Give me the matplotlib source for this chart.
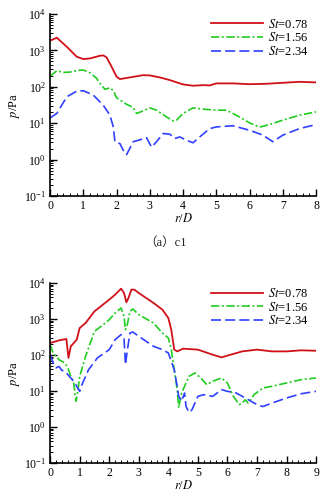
import matplotlib
matplotlib.use("Agg")
import matplotlib.pyplot as plt
from matplotlib.ticker import LogLocator, MultipleLocator, AutoMinorLocator, NullFormatter

plt.rcParams['font.family'] = ['Liberation Serif', 'Noto Sans CJK SC']
plt.rcParams['mathtext.fontset'] = 'stix'

# (a) c1
c1_x_078 = [0, 0.2, 0.5, 0.8, 1.0, 1.2, 1.5, 1.6, 1.7, 1.85, 2.0, 2.1, 2.4, 2.8, 3.0, 3.3, 3.6,
            4.0, 4.3, 4.6, 4.8, 5.0, 5.5, 6.0, 6.5, 7.0, 7.5, 8.0]
c1_p_078 = [1845, 2235, 1262, 670, 577, 602, 713, 728, 641, 355, 188, 163, 181, 209, 205, 181, 153,
            116, 107, 111, 109, 124, 124, 118, 121, 129, 137, 132]

c1_x_156 = [0, 0.2, 0.4, 0.6, 0.9, 1.0, 1.2, 1.4, 1.5, 1.65, 1.8, 1.9, 2.0, 2.3, 2.5, 2.6, 2.8, 3.0,
            3.2, 3.5, 3.7, 3.8, 4.0, 4.3, 4.6, 5.0, 5.3, 5.6, 6.0, 6.3, 6.6, 7.0, 7.5, 8.0]
c1_p_156 = [197, 276, 248, 254, 288, 288, 243, 170, 124, 85, 94, 78, 50, 33, 27, 18.5, 21.8, 26.4,
            22.8, 14.9, 11.6, 12.1, 18.5, 26.4, 24.3, 22.8, 22.8, 16.6, 10.2, 7.8, 9.2, 12.1, 16.6, 20.5]

c1_x_234 = [0, 0.2, 0.5, 0.8, 1.0, 1.3, 1.6, 1.8, 1.9, 1.95, 2.1, 2.2, 2.3, 2.5, 2.7, 2.9, 3.05, 3.2,
            3.4, 3.6, 3.75, 3.9, 4.1, 4.3, 4.5, 4.8, 5.0, 5.5, 6.0, 6.4, 6.7, 7.0, 7.5, 8.0]
c1_p_234 = [14.0, 18.5, 53, 76, 78, 59, 31, 16.6, 7.9, 3.1, 2.75, 1.8, 1.37, 3.1, 3.5, 4.0, 2.2, 3.1,
            5.2, 5.0, 3.8, 4.2, 3.4, 2.9, 4.2, 7.1, 7.9, 8.5, 6.4, 4.7, 3.1, 4.7, 7.1, 9.2]

# second panel
c2_x_078 = [0, 0.3, 0.55, 0.62, 0.7, 0.8, 0.9, 1.0, 1.2, 1.5, 2.0, 2.2, 2.4, 2.5, 2.58, 2.65, 2.75,
            2.85, 3.0, 3.5, 3.8, 4.0, 4.1, 4.2, 4.3, 4.5, 5.0, 5.5, 5.8, 6.0, 6.5, 7.0, 7.5, 8.0, 8.5, 9.0]
c2_p_078 = [215, 255, 278, 83, 174, 215, 267, 562, 774, 1633, 3444, 4745, 6966, 5275, 2904, 3831, 6535,
            6535, 5275, 2783, 1815, 1066, 505, 141, 126, 150, 141, 102, 86, 96, 126, 141, 126, 126, 135, 131]

c2_x_156 = [0, 0.1, 0.3, 0.5, 0.6, 0.7, 0.8, 0.85, 0.88, 0.95, 1.0, 1.2, 1.5, 1.8, 2.0, 2.2, 2.4, 2.5,
            2.55, 2.6, 2.7, 2.8, 3.0, 3.5, 3.8, 4.0, 4.1, 4.2, 4.3, 4.35, 4.45, 4.6, 4.7, 4.9, 5.1, 5.3,
            5.5, 5.8, 6.0, 6.2, 6.4, 6.5, 6.6, 6.7, 6.9, 7.2, 7.5, 8.0, 8.5, 9.0]
c2_p_156 = [194, 114, 74, 60, 44, 25.5, 16.7, 7.1, 5.2, 12.1, 25.5, 92, 454, 696, 958, 1468, 2024, 1187,
            505, 626, 1633, 1896, 1318, 774, 408, 297, 141, 39, 10.9, 3.4, 8.8, 16.7, 25.5, 31.6, 23.0, 15.0,
            18.6, 23.0, 16.7, 7.1, 4.2, 4.6, 5.7, 4.6, 7.9, 12.1, 13.5, 16.7, 20.7, 23.0]

c2_x_234 = [0, 0.1, 0.2, 0.3, 0.4, 0.5, 0.6, 0.8, 0.9, 1.0, 1.1, 1.3, 1.6, 2.0, 2.2, 2.4, 2.5, 2.55,
            2.6, 2.7, 2.8, 3.0, 3.5, 3.8, 4.0, 4.2, 4.3, 4.35, 4.45, 4.55, 4.6, 4.7, 4.8, 5.0, 5.2, 5.5,
            5.8, 6.0, 6.3, 6.6, 7.0, 7.2, 7.5, 8.0, 8.5, 9.0]
c2_p_234 = [102, 60, 44, 48, 37.5, 35.2, 28.4, 18.6, 13.5, 9.8, 16.7, 39, 83, 141, 267, 367, 297, 54,
            114, 408, 435, 330, 174, 141, 114, 39, 13.5, 7.1, 5.2, 8.8, 3.7, 2.55, 3.0, 7.1, 7.9, 7.1,
            10.9, 9.8, 8.8, 6.4, 4.2, 3.7, 4.6, 6.4, 8.4, 9.8]

labels = [r'$\mathit{St}$=0.78', r'$\mathit{St}$=1.56', r'$\mathit{St}$=2.34']
colors = ['#d01018', '#20cc20', '#3040ff']


def style_axes(ax, xmax):
    ax.set_yscale('log')
    ax.set_ylim(0.1, 1e4)
    ax.set_xlim(0, xmax)
    ax.xaxis.set_major_locator(MultipleLocator(1))
    ax.xaxis.set_minor_locator(AutoMinorLocator(5))
    ax.yaxis.set_major_locator(LogLocator(base=10, numticks=10))
    ax.yaxis.set_minor_locator(LogLocator(base=10, subs=range(2, 10), numticks=20))
    ax.yaxis.set_minor_formatter(NullFormatter())
    for s in ['top', 'right']:
        ax.spines[s].set_visible(False)
    for s in ['left', 'bottom']:
        ax.spines[s].set_linewidth(1.2)
    ax.tick_params(which='both', direction='in', labelsize=8.5, width=1.0, pad=3)
    ax.tick_params(which='major', length=5)
    ax.tick_params(which='minor', length=2.5, width=0.7)
    ax.set_xlabel(r'$r$/$D$', fontsize=9, labelpad=0)
    ax.set_ylabel(r'$p$/Pa', fontsize=9, labelpad=1)
    ax.legend(loc='upper right', frameon=False, fontsize=9, handlelength=4.2,
              handletextpad=0.4, labelspacing=0.05, borderaxespad=0.2,
              bbox_to_anchor=(1.0, 1.02))


def draw(ax, xs, ps):
    ax.plot(xs[0], ps[0], '-', color=colors[0], lw=1.3, label=labels[0])
    ax.plot(xs[1], ps[1], color=colors[1], lw=1.2, dashes=(5, 1.5, 1.2, 1.5), label=labels[1])
    ax.plot(xs[2], ps[2], color=colors[2], lw=1.2, dashes=(6, 2.5), label=labels[2])


fig = plt.figure(figsize=(3.32, 5.0), dpi=100)
ax1 = fig.add_axes([0.151, 0.608, 0.801, 0.364])
ax2 = fig.add_axes([0.151, 0.074, 0.801, 0.360])

draw(ax1, [c1_x_078, c1_x_156, c1_x_234], [c1_p_078, c1_p_156, c1_p_234])
style_axes(ax1, 8)
draw(ax2, [c2_x_078, c2_x_156, c2_x_234], [c2_p_078, c2_p_156, c2_p_234])
style_axes(ax2, 9)

fig.text(0.5, 0.514, '（a）c1', ha='center', va='center', fontsize=9, color='#222222')

fig.savefig('out.png', dpi=100)
